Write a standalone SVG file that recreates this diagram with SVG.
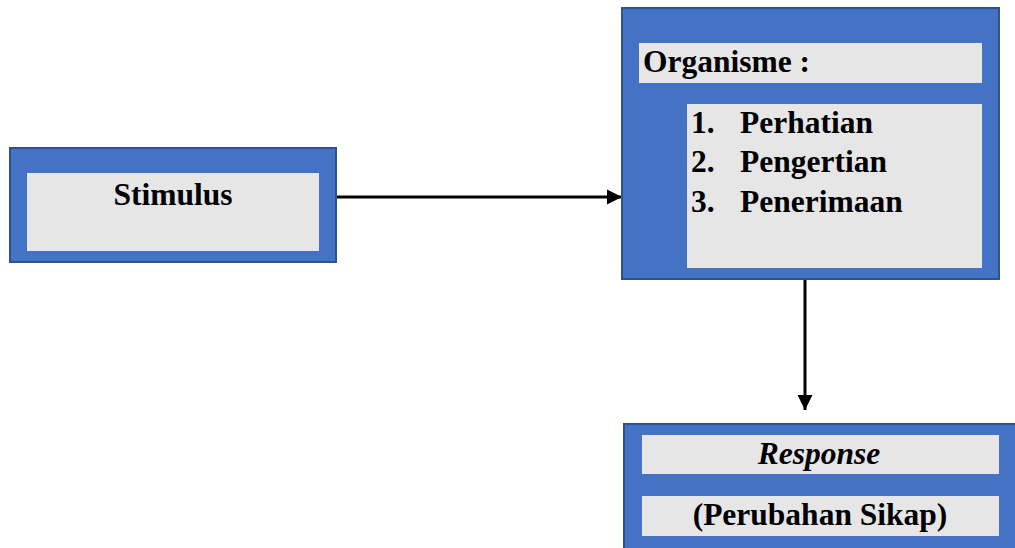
<svg xmlns="http://www.w3.org/2000/svg" width="1015" height="548" viewBox="0 0 1015 548">
<defs>
<style>
.outer{fill:#4472C4;stroke:#2F528F;stroke-width:2}
.inner{fill:#E6E6E6}
.t{font-family:"Liberation Serif","Times New Roman",serif;font-weight:bold;font-size:31.5px;fill:#000}
.conn{stroke:#000;stroke-width:3;fill:none}
</style>
<marker id="ah" viewBox="0 0 10 10" refX="10" refY="5" markerUnits="userSpaceOnUse" markerWidth="15" markerHeight="16" orient="auto">
<path d="M0,0 L10,5 L0,10 Z" fill="#000"/>
</marker>
</defs>
<rect width="1015" height="548" fill="#fff"/>
<g id="connectors">
<line class="conn" x1="337" y1="197" x2="622" y2="197" marker-end="url(#ah)"/>
<line class="conn" x1="805" y1="280" x2="805" y2="410" marker-end="url(#ah)"/>
</g>
<g id="stimulus">
<rect class="outer" x="10" y="148" width="326" height="114"/>
<rect class="inner" x="27" y="173" width="292" height="78"/>
<text class="t" x="173" y="205" text-anchor="middle">Stimulus</text>
</g>
<g id="organisme">
<rect class="outer" x="622" y="8" width="377" height="271"/>
<rect class="inner" x="639" y="43" width="343" height="40"/>
<text class="t" x="643" y="72">Organisme :</text>
<rect class="inner" x="687" y="104" width="295" height="164"/>
<text class="t" x="691" y="133">1.</text>
<text class="t" x="740" y="133">Perhatian</text>
<text class="t" x="691" y="172">2.</text>
<text class="t" x="740" y="172">Pengertian</text>
<text class="t" x="691" y="212">3.</text>
<text class="t" x="740" y="212">Penerimaan</text>
</g>
<g id="response">
<rect class="outer" x="624" y="424" width="400" height="140"/>
<rect class="inner" x="642" y="435" width="357" height="39"/>
<text class="t" x="819" y="464" text-anchor="middle" font-style="italic">Response</text>
<rect class="inner" x="642" y="496" width="357" height="40"/>
<text class="t" x="820" y="525" text-anchor="middle">(Perubahan Sikap)</text>
</g>
</svg>
